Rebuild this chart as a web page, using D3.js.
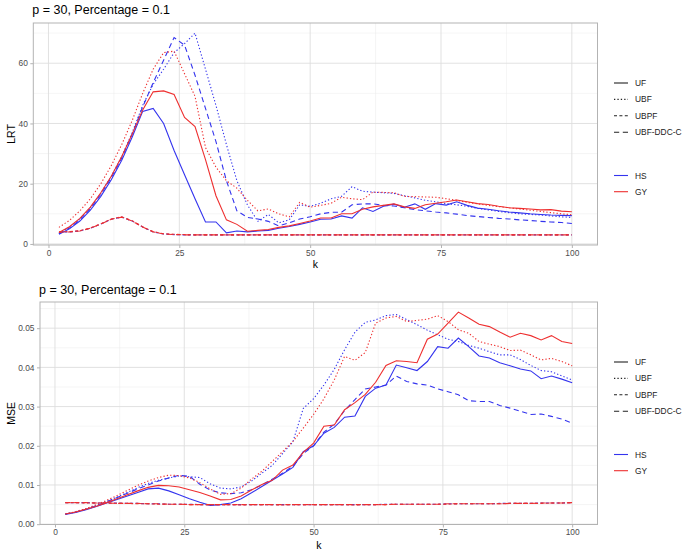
<!DOCTYPE html>
<html><head><meta charset="utf-8">
<script src="https://cdn.jsdelivr.net/npm/d3@7"></script>
<style>
body{margin:0;background:#fff;}
svg{display:block;font-family:"Liberation Sans",Arial,sans-serif;}
</style></head>
<body><svg id="chart" width="685" height="553"></svg>
<script>
const K = [2,4,6,8,10,12,14,16,18,20,22,24,26,28,30,32,34,36,38,40,42,44,46,48,50,52,54,56,58,60,62,64,66,68,70,72,74,76,78,80,82,84,86,88,90,92,94,96,98,100];
const methods = ["UF","UBF","UBPF","UBF-DDC-C"];
const groups = ["HS","GY"];
const title = "p = 30, Percentage = 0.1";

// ---- LRT panel ----
const lrt_HS_UF = [3.2,5.0,7.6,11.2,15.8,21.3,27.8,35.5,44.0,45.0, 40.0,31.0,23.0,15.0,7.3,7.3,3.7,4.3,4.0,4.3, 4.5,5.2,5.8,6.5,7.3,8.2,8.3,9.3,8.6,12.0, 10.8,12.5,13.2,12.2,13.3,11.5,13.4,12.9,14.0,12.8, 11.9,11.5,11.0,10.6,10.3,10.0,9.8,9.6,9.5,9.4];
const lrt_GY_UF = [3.8,5.7,8.5,12.2,17.0,22.5,29.0,36.5,44.5,50.5, 50.8,49.6,42.0,39.0,28.0,16.0,8.0,6.5,4.2,4.5, 4.8,5.5,6.0,6.8,7.6,8.6,8.6,10.0,10.0,11.5, 12.3,12.8,13.3,12.3,11.8,13.0,13.5,14.0,14.6,14.0, 13.4,13.1,12.5,12.0,11.8,11.6,11.3,11.4,10.9,10.7];
const lrt_HS_UBF = [3.5,5.5,8.3,12.0,16.8,22.5,29.0,37.0,46.0,53.0, 58.0,63.5,66.5,70.0,58.0,46.0,33.0,21.0,13.0,7.5, 9.8,7.0,8.0,13.0,12.5,13.5,15.0,15.8,19.0,17.5, 17.2,17.0,16.8,16.0,15.3,14.5,14.0,13.4,13.0,12.5, 11.8,11.3,10.8,10.4,10.0,9.8,9.6,9.3,9.0,8.8];
const lrt_GY_UBF = [5.5,7.8,11.0,15.0,20.0,26.0,33.0,41.0,50.0,58.0, 63.5,64.0,56.5,49.0,32.0,25.5,21.0,18.5,14.5,11.0, 11.6,10.0,9.0,13.8,12.2,12.8,13.5,15.5,15.0,14.7, 17.2,17.1,17.0,15.8,15.7,15.6,15.5,15.0,14.5,13.8, 13.3,12.8,12.4,12.0,11.6,11.2,10.8,10.4,10.0,9.7];
const lrt_HS_UBPF = [3.9,4.0,4.3,5.2,6.6,8.2,8.9,7.6,5.6,4.0, 3.3,3.1,3.0,3.0,3.0,3.0,3.0,3.0,3.0,3.0, 3.0,3.0,3.0,3.0,3.0,3.0,3.0,3.0,3.0,3.0, 3.0,3.0,3.0,3.0,3.0,3.0,3.0,3.0,3.0,3.0, 3.0,3.0,3.0,3.0,3.0,3.0,3.0,3.0,3.0,3.0];
const lrt_GY_UBPF = [4.0,4.1,4.4,5.3,6.7,8.3,9.0,7.7,5.7,4.1, 3.4,3.2,3.1,3.0,3.0,3.0,3.0,3.0,3.0,3.0, 3.0,3.0,3.0,3.0,3.0,3.0,3.0,3.0,3.0,3.0, 3.0,3.0,3.0,3.0,3.0,3.0,3.0,3.0,3.0,3.0, 3.0,3.0,3.0,3.0,3.0,3.0,3.0,3.0,3.0,3.0];
const lrt_HS_DDC = [3.4,5.3,8.0,11.7,16.5,22.0,28.5,36.5,45.5,53.5, 61.0,68.5,66.0,56.0,45.0,34.0,21.0,11.0,8.8,8.3, 7.5,6.0,7.0,8.3,9.0,10.0,10.5,10.5,13.0,13.3, 13.3,12.8,12.6,12.0,11.4,11.0,10.6,10.3,9.9,9.4, 9.1,8.8,8.5,8.3,8.0,7.8,7.5,7.3,7.1,6.8];
const lrt_GY_DDC = [3.9,4.0,4.3,5.2,6.6,8.2,8.9,7.6,5.6,4.0, 3.3,3.1,3.0,3.0,3.0,3.0,3.0,3.0,3.0,3.0, 3.0,3.0,3.0,3.0,3.0,3.0,3.0,3.0,3.0,3.0, 3.0,3.0,3.0,3.0,3.0,3.0,3.0,3.0,3.0,3.0, 3.0,3.0,3.0,3.0,3.0,3.0,3.0,3.0,3.0,3.0];
const lrt_yTicks = [0,20,40,60];

// ---- MSE panel ----
const mse_HS_UF = [.0025,.0030,.0037,.0045,.0054,.0063,.0072,.0081,.0090,.0092, .0085,.0075,.0065,.0056,.0048,.0050,.0054,.0065,.0080,.0096, .0112,.0128,.0145,.0185,.0200,.0232,.0247,.0273,.0276,.0326, .0347,.0355,.0406,.0399,.0392,.0415,.0453,.0449,.0475,.0453, .0429,.0424,.0412,.0404,.0396,.0391,.0371,.0378,.0370,.0361];
const mse_GY_UF = [.0026,.0031,.0038,.0046,.0055,.0065,.0075,.0085,.0094,.0099, .0098,.0095,.0088,.0081,.0072,.0062,.0063,.0072,.0087,.0101, .0112,.0138,.0151,.0183,.0207,.0250,.0253,.0292,.0310,.0331, .0362,.0405,.0417,.0415,.0412,.0472,.0485,.0513,.0541,.0526, .0510,.0504,.0490,.0477,.0487,.0481,.0470,.0481,.0466,.0461];
const mse_HS_UBF = [.0026,.0031,.0039,.0048,.0058,.0069,.0081,.0093,.0104,.0112, .0118,.0123,.0121,.0119,.0103,.0092,.0090,.0095,.0110,.0130, .0150,.0180,.0210,.0295,.0320,.0355,.0395,.0445,.0490,.0515, .0521,.0532,.0535,.0522,.0509,.0495,.0483,.0472,.0466,.0456, .0449,.0440,.0432,.0432,.0420,.0405,.0392,.0389,.0378,.0368];
const mse_GY_UBF = [.0026,.0032,.0040,.0050,.0061,.0073,.0086,.0099,.0110,.0119, .0125,.0124,.0118,.0106,.0090,.0076,.0078,.0092,.0115,.0135, .0160,.0185,.0211,.0245,.0280,.0320,.0368,.0428,.0418,.0438, .0513,.0526,.0530,.0517,.0520,.0523,.0532,.0517,.0496,.0487, .0466,.0459,.0453,.0443,.0444,.0432,.0419,.0423,.0415,.0404];
const mse_HS_UBPF = [.0055,.0055,.0055,.0054,.0054,.0054,.0053,.0053,.0052,.0052, .0051,.0051,.0051,.0050,.0050,.0050,.0050,.0050,.0050,.0050, .0050,.0050,.0050,.0050,.0050,.0050,.0050,.0050,.0050,.0050, .0050,.0051,.0051,.0051,.0051,.0051,.0051,.0052,.0052,.0052, .0052,.0052,.0053,.0053,.0053,.0053,.0054,.0054,.0054,.0055];
const mse_GY_UBPF = [.0055,.0055,.0054,.0054,.0054,.0053,.0053,.0052,.0052,.0051, .0051,.0051,.0050,.0050,.0050,.0050,.0050,.0049,.0050,.0050, .0050,.0049,.0050,.0050,.0050,.0050,.0050,.0050,.0049,.0050, .0050,.0050,.0051,.0051,.0051,.0051,.0051,.0051,.0052,.0052, .0052,.0052,.0052,.0053,.0053,.0053,.0053,.0054,.0054,.0055];
const mse_HS_DDC = [.0026,.0031,.0038,.0047,.0057,.0068,.0079,.0090,.0100,.0110, .0118,.0125,.0122,.0102,.0087,.0080,.0078,.0080,.0088,.0100, .0115,.0130,.0148,.0180,.0200,.0235,.0255,.0290,.0318,.0345, .0350,.0355,.0378,.0364,.0358,.0355,.0345,.0338,.0330,.0315, .0313,.0313,.0303,.0296,.0288,.0280,.0281,.0275,.0268,.0258];
const mse_GY_DDC = [.0055,.0055,.0055,.0054,.0054,.0053,.0053,.0053,.0052,.0052, .0051,.0051,.0050,.0050,.0050,.0050,.0050,.0050,.0050,.0050, .0050,.0050,.0050,.0050,.0050,.0050,.0050,.0050,.0050,.0050, .0050,.0050,.0051,.0051,.0051,.0051,.0051,.0052,.0052,.0052, .0052,.0052,.0052,.0053,.0053,.0053,.0054,.0054,.0054,.0055];
const mse_yTicks = [0,0.01,0.02,0.03,0.04,0.05];
const xTicks = [0,25,50,75,100];

const colors = {HS:"#3434ee", GY:"#ee2f2f"};
const dashes = {"UF":null, "UBF":"1.3,2.1", "UBPF":"3,2.4", "UBF-DDC-C":"5.2,3.6"};

const svg = d3.select("#chart");

function panel(opt){
  const {L,R,T,B,series,yTicks,yFmt,ylab,titleY,legendY,xTickY,xLabY} = opt;
  const all = series.flatMap(s=>s.values);
  const ext = d3.extent(all), kx = d3.extent(K);
  const ey = (ext[1]-ext[0])*0.05, ex=(kx[1]-kx[0])*0.05;
  const x = d3.scaleLinear().domain([kx[0]-ex,kx[1]+ex]).range([L,R]);
  const y = d3.scaleLinear().domain([ext[0]-ey,ext[1]+ey]).range([B,T]);
  const g = svg.append("g");
  // grid minor
  const yStep = yTicks[1]-yTicks[0];
  const yMinor = yTicks.map(v=>v+yStep/2).filter(v=>v<=y.domain()[1]);
  const xMinor = xTicks.slice(0,-1).map(v=>v+12.5);
  g.selectAll(".ym").data(yMinor).join("line").attr("x1",L).attr("x2",R)
    .attr("y1",d=>y(d)).attr("y2",d=>y(d)).attr("stroke","#ebebeb").attr("stroke-width",0.5);
  g.selectAll(".xm").data(xMinor).join("line").attr("y1",T).attr("y2",B)
    .attr("x1",d=>x(d)).attr("x2",d=>x(d)).attr("stroke","#ebebeb").attr("stroke-width",0.5);
  g.selectAll(".yM").data(yTicks).join("line").attr("x1",L).attr("x2",R)
    .attr("y1",d=>y(d)).attr("y2",d=>y(d)).attr("stroke","#dedede").attr("stroke-width",0.9);
  g.selectAll(".xM").data(xTicks).join("line").attr("y1",T).attr("y2",B)
    .attr("x1",d=>x(d)).attr("x2",d=>x(d)).attr("stroke","#dedede").attr("stroke-width",0.9);
  // lines
  const line = d3.line().x((d,i)=>x(K[i])).y(d=>y(d));
  series.forEach(s=>{
    g.append("path").attr("d",line(s.values)).attr("fill","none")
      .attr("stroke",colors[s.group]).attr("stroke-width",1.1)
      .attr("stroke-dasharray",dashes[s.method]);
  });
  // border
  g.append("rect").attr("x",L).attr("y",T).attr("width",R-L).attr("height",B-T)
    .attr("fill","none").attr("stroke","#b3b3b3").attr("stroke-width",1);
  // axes
  const ya = g.append("g").attr("transform",`translate(${L},0)`)
    .call(d3.axisLeft(y).tickValues(yTicks).tickFormat(yFmt).tickSize(3).tickPadding(2.5));
  const xa = g.append("g").attr("transform",`translate(0,${B})`)
    .call(d3.axisBottom(x).tickValues(xTicks).tickSize(3).tickPadding(2));
  [ya,xa].forEach(a=>{
    a.select(".domain").remove();
    a.selectAll("line").attr("stroke","#b3b3b3");
    a.selectAll("text").attr("fill","#4d4d4d").style("font-size","8.4px")
      .style("font-family","'Liberation Sans',Arial,sans-serif");
  });
  // titles
  svg.append("text").attr("x",L-1).attr("y",titleY).text(title)
    .style("font-size","12.5px").attr("fill","#000");
  svg.append("text").attr("x",(L+R)/2).attr("y",xLabY).attr("text-anchor","middle")
    .text("k").style("font-size","10.5px").attr("fill","#000");
  svg.append("text").attr("transform",`translate(15,${(T+B)/2}) rotate(-90)`)
    .attr("text-anchor","middle").text(ylab).style("font-size","10.5px").attr("fill","#000");
  // legend
  const lg = svg.append("g");
  methods.forEach((m,i)=>{
    const yy = legendY + i*16.4;
    lg.append("line").attr("x1",614).attr("x2",628).attr("y1",yy).attr("y2",yy)
      .attr("stroke","#222").attr("stroke-width",1.1).attr("stroke-dasharray",dashes[m]);
    lg.append("text").attr("x",635).attr("y",yy+3).text(m).style("font-size","8.4px").attr("fill","#222");
  });
  groups.forEach((gr,i)=>{
    const yy = legendY + 92.5 + i*16.2;
    lg.append("line").attr("x1",614).attr("x2",628).attr("y1",yy).attr("y2",yy)
      .attr("stroke",colors[gr]).attr("stroke-width",1.1);
    lg.append("text").attr("x",635).attr("y",yy+3).text(gr).style("font-size","8.4px").attr("fill","#222");
  });
}

function mk(prefix, src){
  const out=[];
  // draw blue groups first, red on top
  groups.forEach(gr=>methods.forEach(m=>{
    const key = prefix+"_"+gr+"_"+(m==="UBF-DDC-C"?"DDC":m);
    out.push({group:gr, method:m, values:src[key]});
  }));
  return out;
}
const LRTsrc = {lrt_HS_UF,lrt_GY_UF,lrt_HS_UBF,lrt_GY_UBF,lrt_HS_UBPF,lrt_GY_UBPF,lrt_HS_DDC,lrt_GY_DDC};
const MSEsrc = {mse_HS_UF,mse_GY_UF,mse_HS_UBF,mse_GY_UBF,mse_HS_UBPF,mse_GY_UBPF,mse_HS_DDC,mse_GY_DDC};

panel({L:33.3,R:597.5,T:23,B:245,series:mk("lrt",LRTsrc),yTicks:lrt_yTicks,yFmt:d3.format("d"),
  ylab:"LRT",titleY:14,legendY:83,xLabY:268});
panel({L:40,R:597.5,T:302,B:524.5,series:mk("mse",MSEsrc),yTicks:mse_yTicks,yFmt:d3.format(".2f"),
  ylab:"MSE",titleY:294,legendY:362,xLabY:549});
</script></body></html>
